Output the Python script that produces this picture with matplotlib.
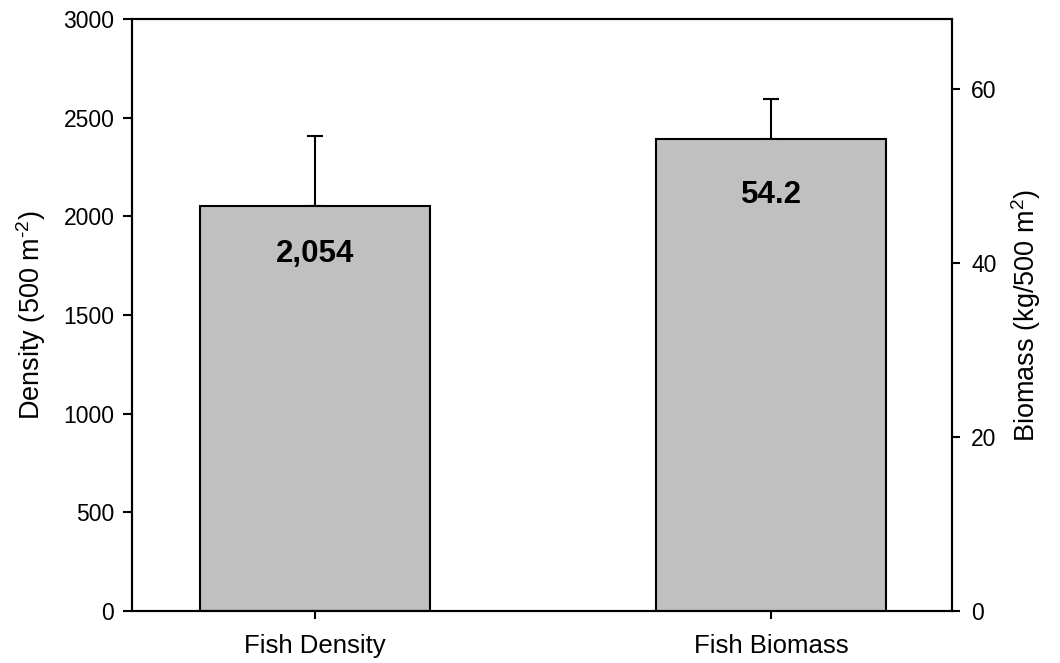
import matplotlib
matplotlib.use("Agg")
import matplotlib.pyplot as plt

plt.rcParams['font.family'] = ['Liberation Sans', 'DejaVu Sans']
plt.rcParams['mathtext.fontset'] = 'custom'
plt.rcParams['mathtext.rm'] = 'Liberation Sans'
plt.rcParams['mathtext.it'] = 'Liberation Sans:italic'
plt.rcParams['mathtext.bf'] = 'Liberation Sans:bold'

categories = ["Fish Density", "Fish Biomass"]
density_value = [2054]
density_err = [351]
biomass_value = [54.2]
biomass_err = [4.6]
density_label = "2,054"
biomass_label = "54.2"
left_ticks = [0, 500, 1000, 1500, 2000, 2500, 3000]
right_ticks = [0, 20, 40, 60]

fig = plt.figure(figsize=(10.6, 6.63), dpi=100)
ax = fig.add_axes([131.7/1060, 1 - 611/663, 820/1060, 592/663])
ax2 = ax.twinx()

bar_kw = dict(width=0.504, color='#c0c0c0', edgecolor='black', linewidth=1.5, zorder=2)
err_kw = dict(fmt='none', ecolor='black', elinewidth=1.5, capsize=6, capthick=1.5, zorder=1)

ax.bar([0], density_value, **bar_kw)
ax.errorbar([0], density_value, yerr=[[0], density_err], **err_kw)
ax2.bar([1], biomass_value, **bar_kw)
ax2.errorbar([1], biomass_value, yerr=[[0], biomass_err], **err_kw)

ax.annotate(density_label, (0, density_value[0]), xytext=(0, -34.6), textcoords='offset points',
            ha='center', va='center', fontsize=22.5, fontweight='bold')
ax2.annotate(biomass_label, (1, biomass_value[0]), xytext=(0, -40.3), textcoords='offset points',
             ha='center', va='center', fontsize=22.5, fontweight='bold')

ax.set_xlim(-0.402, 1.396)
ax.set_ylim(0, 3000)
ax2.set_ylim(0, 68)
ax.set_yticks(left_ticks)
ax2.set_yticks(right_ticks)
ax.set_xticks([0, 1])
ax.set_xticklabels(categories)

for a in (ax, ax2):
    for s in a.spines.values():
        s.set_linewidth(1.5)
ax.tick_params(axis='y', direction='out', length=6.5, width=1.5, labelsize=16.5, pad=6)
ax2.tick_params(axis='y', direction='out', length=6, width=1.5, labelsize=16.5, pad=8)
ax.tick_params(axis='x', direction='out', length=5.5, width=1.5, labelsize=18.5, pad=11)

ax.set_ylabel("Density (500 m$^{\\text{-}2}$)", fontsize=19.5, labelpad=11)
ax2.set_ylabel("Biomass (kg/500 m$^{2}$)", fontsize=19.5, labelpad=9)

fig.savefig("out.png", dpi=100)
